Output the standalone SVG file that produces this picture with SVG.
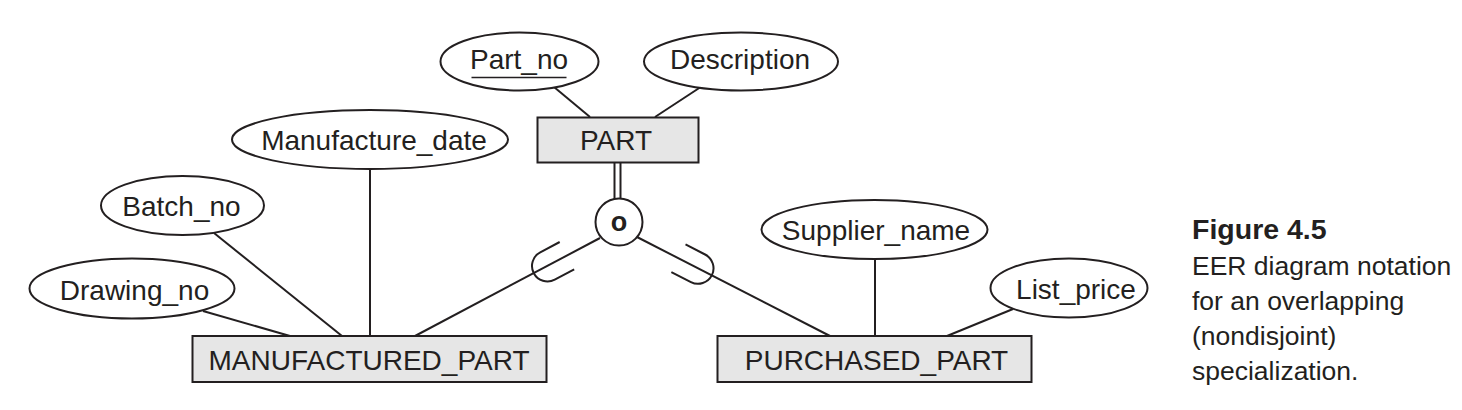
<svg xmlns="http://www.w3.org/2000/svg" width="1462" height="410" viewBox="0 0 1462 410">
<defs>
<style>
.ent{fill:#e6e6e6;stroke:#231f20;stroke-width:2}
.att{fill:#ffffff;stroke:#231f20;stroke-width:2}
.ln{fill:none;stroke:#231f20;stroke-width:2}
.t{font-family:"Liberation Sans",Arial,Helvetica,sans-serif;font-size:28px;fill:#231f20;text-anchor:middle}
.cap{font-family:"Liberation Sans",Arial,Helvetica,sans-serif;font-size:26.5px;fill:#231f20}
.capb{font-family:"Liberation Sans",Arial,Helvetica,sans-serif;font-size:28.5px;font-weight:bold;fill:#231f20}
</style>
<path id="subset" d="M 22,-15.5 L 0,-15.5 A 15.5 15.5 0 0 0 0,15.5 L 22,15.5"/>
</defs>
<rect width="1462" height="410" fill="#ffffff"/>

<g id="connectors">
<line class="ln" x1="554" y1="87" x2="590" y2="117"/>
<line class="ln" x1="700" y1="87.5" x2="655" y2="117"/>
<line class="ln" x1="614.5" y1="163" x2="614.5" y2="199"/>
<line class="ln" x1="620.5" y1="163" x2="620.5" y2="199"/>
<line class="ln" x1="600" y1="238" x2="415" y2="336"/>
<line class="ln" x1="637" y1="237" x2="830" y2="336"/>
<use href="#subset" class="ln" transform="translate(547.5,266) rotate(-27.9)"/>
<use href="#subset" class="ln" transform="translate(698,268.3) rotate(27.2) scale(-1,1)"/>
<line class="ln" x1="370" y1="169" x2="370" y2="336"/>
<line class="ln" x1="214" y1="233" x2="342" y2="336"/>
<line class="ln" x1="203" y1="311" x2="290" y2="336"/>
<line class="ln" x1="875" y1="259" x2="875" y2="336"/>
<line class="ln" x1="1013" y1="309" x2="947" y2="336"/>
</g>

<g id="part">
<rect class="ent" x="537.5" y="117.5" width="161" height="45"/>
<text class="t" x="616" y="150">PART</text>
</g>
<g id="part_no">
<ellipse class="att" cx="519.5" cy="61.5" rx="79" ry="29"/>
<text class="t" x="519" y="68.5">Part_no</text>
<line class="ln" x1="471.5" y1="77.5" x2="566.5" y2="77.5" style="stroke-width:1.6"/>
</g>
<g id="description">
<ellipse class="att" cx="741" cy="61.5" rx="97" ry="29"/>
<text class="t" x="740" y="68.5">Description</text>
</g>
<g id="overlap">
<circle class="att" cx="619" cy="222" r="23.5"/>
<text class="t" x="619" y="230.5" style="font-weight:bold;font-size:27px">o</text>
</g>
<g id="manufacture_date">
<ellipse class="att" cx="370" cy="139.5" rx="138" ry="29.5"/>
<text class="t" x="374" y="150">Manufacture_date</text>
</g>
<g id="batch_no">
<ellipse class="att" cx="182.5" cy="205.5" rx="81.5" ry="29.5"/>
<text class="t" x="181.5" y="215.5">Batch_no</text>
</g>
<g id="drawing_no">
<ellipse class="att" cx="132" cy="288.5" rx="102.5" ry="30"/>
<text class="t" x="134.5" y="300">Drawing_no</text>
</g>
<g id="manufactured_part">
<rect class="ent" x="192.5" y="336" width="354" height="46"/>
<text class="t" x="369" y="370">MANUFACTURED_PART</text>
</g>
<g id="supplier_name">
<ellipse class="att" cx="874.5" cy="229.5" rx="113" ry="29.5"/>
<text class="t" x="876" y="240">Supplier_name</text>
</g>
<g id="list_price">
<ellipse class="att" cx="1069" cy="288" rx="78.5" ry="29.5"/>
<text class="t" x="1076" y="298.5">List_price</text>
</g>
<g id="purchased_part">
<rect class="ent" x="717.5" y="336" width="314" height="46"/>
<text class="t" x="876.5" y="370">PURCHASED_PART</text>
</g>

<g id="caption">
<text class="capb" x="1192" y="239">Figure 4.5</text>
<text class="cap" x="1192" y="275">EER diagram notation</text>
<text class="cap" x="1192" y="310">for an overlapping</text>
<text class="cap" x="1192" y="345">(nondisjoint)</text>
<text class="cap" x="1192" y="380">specialization.</text>
</g>
</svg>
